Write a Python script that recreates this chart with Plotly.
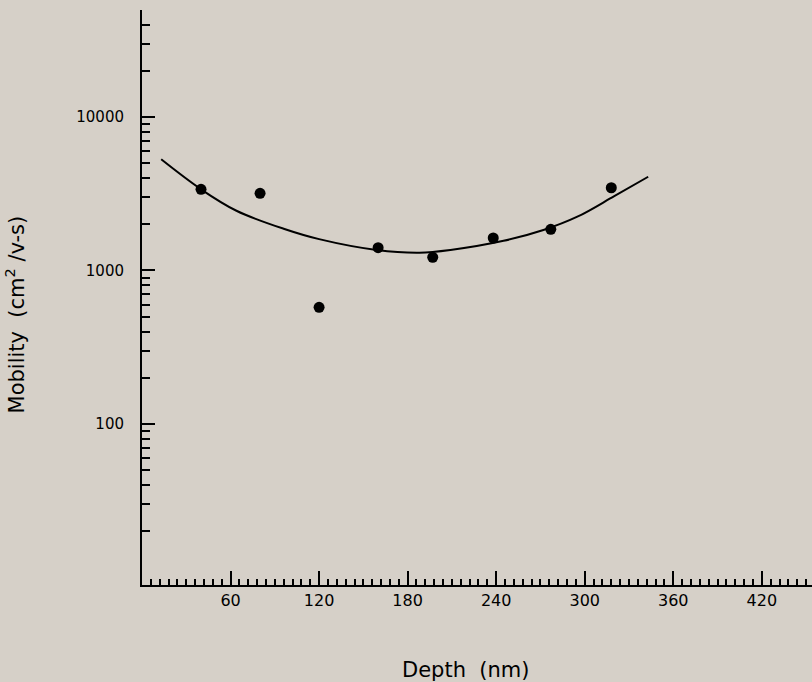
import plotly.graph_objects as go

# Measured points
depth_nm = [40, 80, 120, 160, 197, 238, 277, 318]
mobility = [3380, 3180, 575, 1408, 1219, 1628, 1853, 3459]

# Fitted curve as drawn in the figure
curve_depth = [13, 40, 64, 96, 120, 159, 188, 209, 245, 272, 295, 320, 343]
curve_mobility = [5300, 3380, 2450, 1870, 1600, 1360, 1306, 1360, 1560, 1835, 2240, 3050, 4080]

# Axis ticks
x_tick_vals = [60, 120, 180, 240, 300, 360, 420]
x_tick_text = ["60", "120", "180", "240", "300", "360", "420"]
y_tick_vals = [100, 1000, 10000]
y_tick_text = ["100", "1000", "10000"]
y_minor_vals = [20, 30, 40, 50, 60, 70, 80, 90,
                200, 300, 400, 500, 600, 700, 800, 900,
                2000, 3000, 4000, 5000, 6000, 7000, 8000, 9000,
                20000, 30000, 40000]

bg = "#d6d0c8"
font_family = "DejaVu Sans"

fig = go.Figure()
fig.add_trace(go.Scatter(
    x=curve_depth, y=curve_mobility, mode="lines",
    line=dict(color="black", width=2, shape="spline", smoothing=1.0),
    showlegend=False, hoverinfo="skip"))
fig.add_trace(go.Scatter(
    x=depth_nm, y=mobility, mode="markers",
    marker=dict(color="black", size=11),
    showlegend=False))

fig.update_layout(
    width=812, height=682,
    margin=dict(l=142, r=0, t=10, b=97),
    paper_bgcolor=bg, plot_bgcolor=bg,
    font=dict(family=font_family, color="black"),
    xaxis=dict(
        range=[0, 454], showgrid=False, zeroline=False,
        showline=True, linecolor="black", linewidth=2,
        tickmode="array", tickvals=x_tick_vals, ticktext=x_tick_text,
        ticks="inside", ticklen=14, tickwidth=1.5, tickcolor="black",
        tickfont=dict(size=16, family=font_family),
        minor=dict(ticks="inside", dtick=6, tick0=0, ticklen=6,
                   tickwidth=1.5, tickcolor="black", showgrid=False),
    ),
    yaxis=dict(
        type="log", range=[0.951, 4.697], showgrid=False, zeroline=False,
        showline=True, linecolor="black", linewidth=2,
        tickmode="array", tickvals=y_tick_vals, ticktext=y_tick_text,
        ticks="inside", ticklen=13, tickwidth=2, tickcolor="black",
        tickfont=dict(size=15, family=font_family),
        ticklabelstandoff=13,
        minor=dict(ticks="inside", tickmode="array", tickvals=y_minor_vals,
                   ticklen=8, tickwidth=2, tickcolor="black", showgrid=False),
    ),
    annotations=[
        dict(text="Mobility  (cm<sup>2</sup> /v-s)", xref="paper", yref="paper",
             x=-0.19, y=0.47, textangle=-90, showarrow=False,
             xanchor="center", yanchor="middle",
             font=dict(size=21, family=font_family, color="black")),
        dict(text="Depth  (nm)", xref="paper", yref="paper",
             x=0.483, y=-0.148, showarrow=False,
             xanchor="center", yanchor="middle",
             font=dict(size=21, family=font_family, color="black")),
    ],
)

fig.write_html(
    "out.html",
    config={"displayModeBar": False},
    post_script="document.body.style.margin='0';document.body.style.background='%s';" % bg,
)
